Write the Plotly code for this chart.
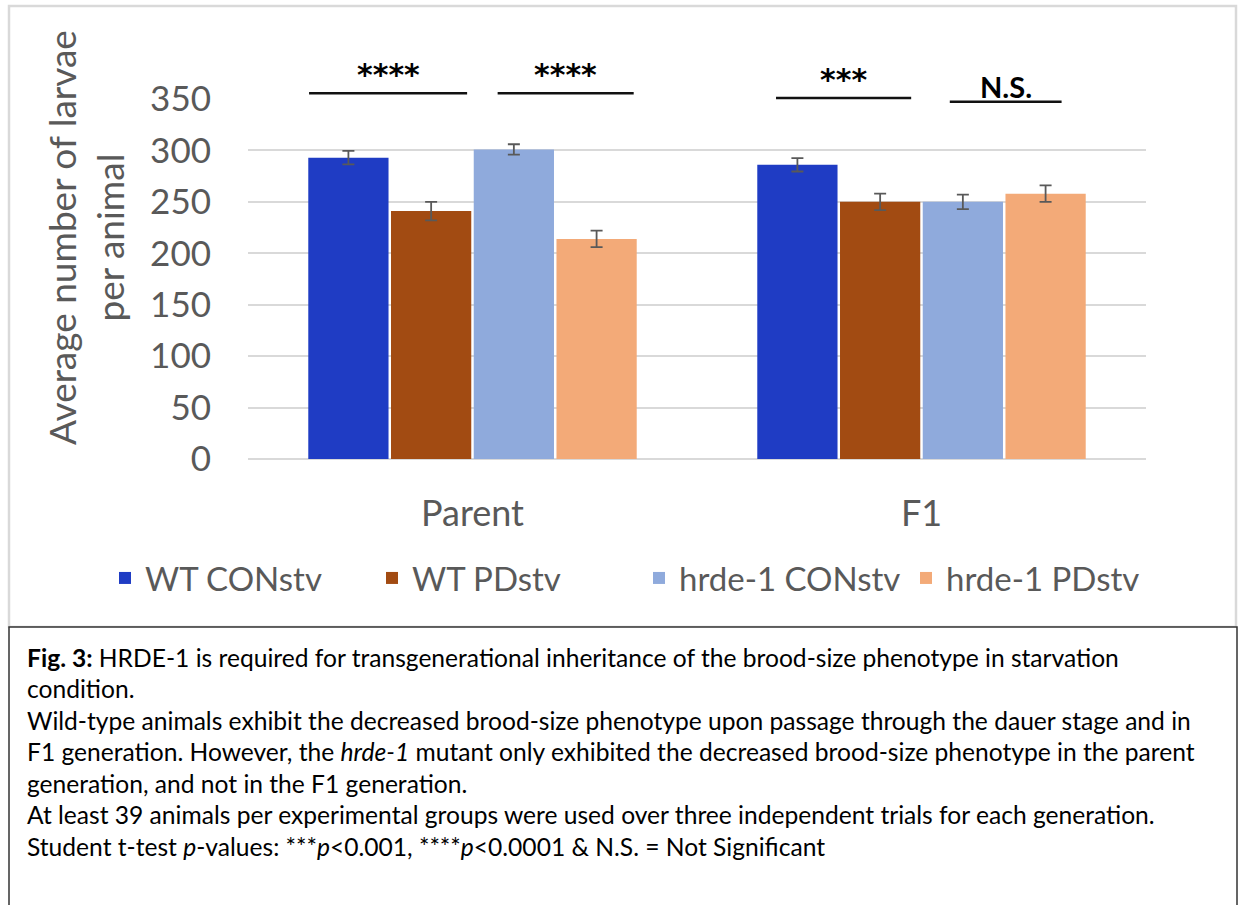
import plotly.graph_objects as go

# ---- data -------------------------------------------------------------
generations = ["Parent", "F1"]
series_names = ["WT CONstv", "WT PDstv", "hrde-1 CONstv", "hrde-1 PDstv"]
wt_con = [293, 286]
wt_pd = [241, 250]
hrde_con = [301, 250]
hrde_pd = [214, 258]
wt_con_err = [6.5, 6.5]
wt_pd_err = [9, 8]
hrde_con_err = [5, 7]
hrde_pd_err = [8, 8]
y_ticks = [0, 50, 100, 150, 200, 250, 300, 350]
sig_labels = ["****", "****", "***", "N.S."]

caption_lines = [
    "<b>Fig. 3:</b> HRDE-1 is required for transgenerational inheritance of the brood-size phenotype in starvation",
    "condition.",
    "Wild-type animals exhibit the decreased brood-size phenotype upon passage through the dauer stage and in",
    "F1 generation. However, the <i>hrde-1</i> mutant only exhibited the decreased brood-size phenotype in the parent",
    "generation, and not in the F1 generation.",
    "At least 39 animals per experimental groups were used over three independent trials for each generation.",
    "Student t-test <i>p</i>-values: ***<i>p</i>&lt;0.001, ****<i>p</i>&lt;0.0001 &amp; N.S. = Not Significant",
]

# ---- styling ----------------------------------------------------------
W, H = 1239, 905
L, R, T, B = 248, 93, 99, 446
PW, PH = W - L - R, H - T - B
Y_MAX = 350
FONT = "Lato"
GREY = "#595959"
colors = ["#1f3cc4", "#a24b12", "#8faadc", "#f3aa78"]


def px_x(px):
    return (px - L) / PW


def px_y(py):
    return (H - B - py) / PH


values = [wt_con, wt_pd, hrde_con, hrde_pd]
errors = [wt_con_err, wt_pd_err, hrde_con_err, hrde_pd_err]

fig = go.Figure()
for name, vals, errs, col in zip(series_names, values, errors, colors):
    fig.add_trace(go.Bar(
        name=name, x=generations, y=vals, marker=dict(color=col, line=dict(width=0)),
        error_y=dict(type="data", array=errs, color=GREY, thickness=1.8, width=6),
    ))

# significance brackets (x in category units, y in data units)
brackets = [(-0.364, -0.012, 355.7, 374.0), (0.056, 0.359, 355.7, 374.0),
            (0.676, 0.977, 350.9, 368.5), (1.063, 1.312, 347.4, 362.5)]
shapes = []
annotations = []
for (x0, x1, yl, yt), lab in zip(brackets, sig_labels):
    shapes.append(dict(type="line", xref="x", yref="paper", x0=x0, x1=x1,
                       y0=yl / Y_MAX, y1=yl / Y_MAX, line=dict(color="#111111", width=2.5)))
    if lab.startswith("*"):
        fnt = dict(family="DejaVu Sans", size=30, color="#000000")
    else:
        fnt = dict(family=FONT, size=29, color="#000000")
    annotations.append(dict(xref="x", yref="paper", x=(x0 + x1) / 2, y=yt / Y_MAX,
                            text="<b>%s</b>" % lab, showarrow=False, xanchor="center",
                            yanchor="middle", font=fnt))

# y-axis title
annotations.append(dict(xref="paper", yref="paper", x=px_x(85), y=px_y(238),
                        text="Average number of larvae<br>per animal", textangle=-90,
                        showarrow=False, xanchor="center", yanchor="middle",
                        font=dict(family=FONT, size=37, color=GREY)))

# chart frame and caption box
shapes.append(dict(type="rect", xref="paper", yref="paper", x0=px_x(9), x1=px_x(1236),
                   y0=px_y(6), y1=px_y(627), line=dict(color="#d9d9d9", width=2.5), layer="below"))
shapes.append(dict(type="rect", xref="paper", yref="paper", x0=px_x(9), x1=px_x(1237),
                   y0=px_y(627), y1=px_y(910), line=dict(color="#333333", width=1.5),
                   fillcolor="white", layer="below"))

line_y = [657, 688.5, 720, 751.5, 783, 814.5, 846]
for txt, yy in zip(caption_lines, line_y):
    annotations.append(dict(xref="paper", yref="paper", x=px_x(25), y=px_y(yy), text=txt,
                            showarrow=False, xanchor="left", yanchor="middle",
                            font=dict(family=FONT, size=24.6, color="#000000")))

fig.update_layout(
    width=W, height=H, margin=dict(l=L, r=R, t=T, b=B, autoexpand=False),
    paper_bgcolor="white", plot_bgcolor="white",
    barmode="group", bargap=0.263, bargroupgap=0.03,
    shapes=shapes, annotations=annotations,
    legend=dict(orientation="h", x=px_x(105), xanchor="left",
                y=px_y(578), yanchor="middle", entrywidth=222, entrywidthmode="pixels",
                font=dict(family=FONT, size=33, color=GREY), traceorder="normal",
                bgcolor="rgba(0,0,0,0)"),
    xaxis=dict(showgrid=False, showline=False, zeroline=False, ticks="",
               tickfont=dict(family=FONT, size=36, color=GREY), ticklabelstandoff=30),
    yaxis=dict(range=[0, Y_MAX], tickvals=y_ticks, showgrid=True, gridcolor="#d9d9d9",
               gridwidth=2, zeroline=True, zerolinecolor="#d9d9d9", zerolinewidth=2,
               showline=False, ticks="", ticklabelstandoff=36,
               tickfont=dict(family=FONT, size=35, color=GREY)),
)

fig.write_html("out.html")
